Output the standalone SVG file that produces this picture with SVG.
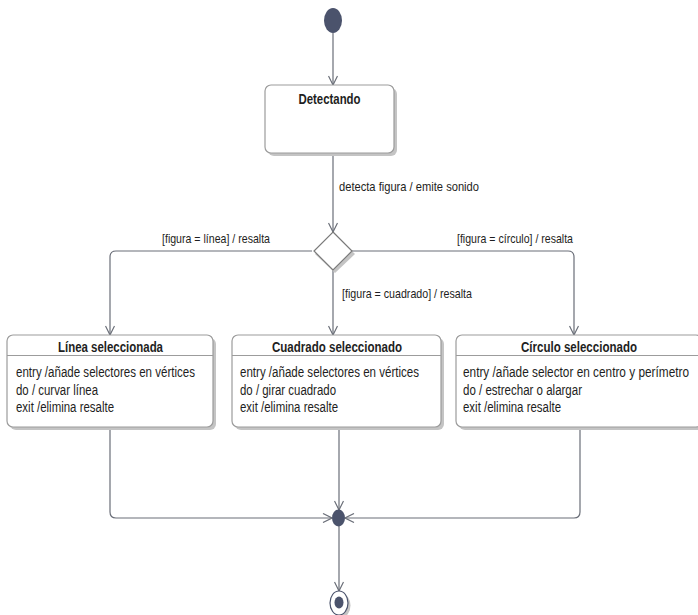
<svg xmlns="http://www.w3.org/2000/svg" width="698" height="615" viewBox="0 0 698 615">
<style>
  text { font-family: "Liberation Sans Narrow", "Liberation Sans", Arial, sans-serif; fill: #1e1e22; }
  .title { font-size: 14px; font-weight: bold; text-anchor: middle; }
  .body { font-size: 14px; }
  .lbl { font-size: 13px; }
  .box { fill: #ffffff; stroke: #9c9c9c; stroke-width: 1.2; }
  .shadow { fill: #c4c4c4; stroke: none; }
  .div { stroke: #9c9c9c; stroke-width: 1.2; }
  .conn { fill: none; stroke: #6a6e78; stroke-width: 1.2; }
  .dark { fill: #4b536c; }
</style>
<defs>
  <marker id="arr" viewBox="0 0 10 10" refX="10" refY="5" markerWidth="10" markerHeight="10" markerUnits="userSpaceOnUse" orient="auto">
    <path d="M1,0.5 L10,5 L1,9.5" fill="none" stroke="#6a6e78" stroke-width="1.2"/>
  </marker>
</defs>

<g id="connectors">
  <path class="conn" d="M333,33 V85" marker-end="url(#arr)"/>
  <path class="conn" d="M333,153 V232" marker-end="url(#arr)"/>
  <path class="conn" d="M312,251 H116 Q110,251 110,257 V335" marker-end="url(#arr)"/>
  <path class="conn" d="M333,270 V335" marker-end="url(#arr)"/>
  <path class="conn" d="M352,251 H568 Q574,251 574,257 V335" marker-end="url(#arr)"/>
  <path class="conn" d="M110,427 V512 Q110,518 116,518 H332" marker-end="url(#arr)"/>
  <path class="conn" d="M339,427 V510" marker-end="url(#arr)"/>
  <path class="conn" d="M580,427 V512 Q580,518 574,518 H345" marker-end="url(#arr)"/>
  <path class="conn" d="M339,526 V591" marker-end="url(#arr)"/>
  <text class="lbl" x="339" y="191" textLength="140" lengthAdjust="spacingAndGlyphs">detecta figura   / emite sonido</text>
  <text class="lbl" x="162" y="243" textLength="108" lengthAdjust="spacingAndGlyphs">[figura = línea] / resalta</text>
  <text class="lbl" x="457" y="243" textLength="116" lengthAdjust="spacingAndGlyphs">[figura = círculo] / resalta</text>
  <text class="lbl" x="342" y="298" textLength="130" lengthAdjust="spacingAndGlyphs">[figura = cuadrado] / resalta</text>
</g>

<g id="initial">
  <ellipse cx="333" cy="20.5" rx="9" ry="12.5" class="dark"/>
</g>

<g id="detectando">
  <rect class="shadow" x="268" y="88" width="129" height="68" rx="6"/>
  <rect class="box" x="265" y="85" width="129" height="68" rx="6"/>
  <text class="title" x="329.5" y="104" textLength="62" lengthAdjust="spacingAndGlyphs">Detectando</text>
</g>

<g id="decision">
  <polygon points="335,235 355,254 335,273 315,254" fill="#c4c4c4"/>
  <polygon points="333,232 352,251 333,270 314,251" fill="#ffffff" stroke="#7a7a7a" stroke-width="1.2"/>
</g>

<g id="linea">
  <rect class="shadow" x="10" y="338" width="206" height="92" rx="6"/>
  <rect class="box" x="7" y="335" width="206" height="92" rx="6"/>
  <line class="div" x1="7" y1="355.5" x2="213" y2="355.5"/>
  <text class="title" x="110.5" y="352" textLength="105" lengthAdjust="spacingAndGlyphs">Línea seleccionada</text>
  <text class="body" x="16" y="377" textLength="179" lengthAdjust="spacingAndGlyphs">entry /añade selectores en vértices</text>
  <text class="body" x="16" y="394.5" textLength="82" lengthAdjust="spacingAndGlyphs">do / curvar línea</text>
  <text class="body" x="16" y="412" textLength="98" lengthAdjust="spacingAndGlyphs">exit /elimina resalte</text>
</g>

<g id="cuadrado">
  <rect class="shadow" x="235" y="338" width="209" height="92" rx="6"/>
  <rect class="box" x="232" y="335" width="209" height="92" rx="6"/>
  <line class="div" x1="232" y1="355.5" x2="441" y2="355.5"/>
  <text class="title" x="337" y="352" textLength="130" lengthAdjust="spacingAndGlyphs">Cuadrado seleccionado</text>
  <text class="body" x="240" y="377" textLength="179" lengthAdjust="spacingAndGlyphs">entry /añade selectores en vértices</text>
  <text class="body" x="240" y="394.5" textLength="96" lengthAdjust="spacingAndGlyphs">do / girar cuadrado</text>
  <text class="body" x="240" y="412" textLength="98" lengthAdjust="spacingAndGlyphs">exit /elimina resalte</text>
</g>

<g id="circulo">
  <rect class="shadow" x="459" y="338" width="246" height="92" rx="6"/>
  <rect class="box" x="456" y="335" width="246" height="92" rx="6"/>
  <line class="div" x1="456" y1="355.5" x2="702" y2="355.5"/>
  <text class="title" x="579" y="352" textLength="116" lengthAdjust="spacingAndGlyphs">Círculo seleccionado</text>
  <text class="body" x="463" y="377" textLength="226" lengthAdjust="spacingAndGlyphs">entry /añade selector en centro y perímetro</text>
  <text class="body" x="463" y="394.5" textLength="119" lengthAdjust="spacingAndGlyphs">do / estrechar o alargar</text>
  <text class="body" x="463" y="412" textLength="98" lengthAdjust="spacingAndGlyphs">exit /elimina resalte</text>
</g>

<g id="junction">
  <ellipse cx="338.5" cy="518" rx="6.5" ry="8.5" class="dark"/>
</g>

<g id="final">
  <ellipse cx="341.5" cy="605.5" rx="9" ry="12" fill="#c4c4c4"/>
  <ellipse cx="339" cy="603" rx="9" ry="12" fill="#ffffff" stroke="#4b536c" stroke-width="1.2"/>
  <ellipse cx="339" cy="602.5" rx="4.5" ry="6" class="dark"/>
</g>
</svg>
